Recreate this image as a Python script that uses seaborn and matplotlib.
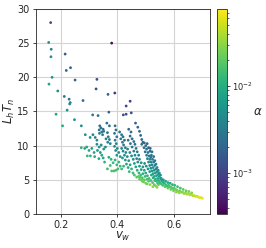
import numpy as np
import pandas as pd
import matplotlib
matplotlib.use('Agg')
import matplotlib.pyplot as plt
import seaborn as sns
from matplotlib.colors import LogNorm

# (v_w, L_h T_n, alpha)
sparse = [
    (0.165, 28.0, 1.2e-3), (0.158, 25.1, 5e-3), (0.167, 24.1, 3.5e-3), (0.166, 23.0, 5e-3),
    (0.380, 25.0, 4e-4), (0.216, 23.4, 1.5e-3), (0.235, 21.4, 1.8e-3), (0.220, 21.0, 2e-3),
    (0.170, 20.0, 6e-3), (0.251, 19.6, 2e-3), (0.328, 19.7, 1.2e-3), (0.159, 19.0, 8e-3),
    (0.325, 18.3, 1.3e-3), (0.190, 18.0, 5e-3), (0.367, 17.5, 1.8e-3), (0.391, 17.7, 8e-4),
    (0.213, 17.2, 3e-3), (0.230, 16.8, 2.5e-3), (0.234, 16.3, 3.5e-3), (0.232, 16.1, 4e-3),
    (0.279, 16.6, 2e-3), (0.223, 15.2, 5.5e-3), (0.445, 16.5, 9e-4), (0.431, 15.8, 1.1e-3),
    (0.449, 14.8, 1.3e-3), (0.421, 14.5, 1.2e-3), (0.431, 14.6, 1.2e-3), (0.370, 14.9, 2e-3),
    (0.184, 14.6, 8e-3), (0.207, 12.9, 9e-3), (0.249, 13.8, 5e-3), (0.313, 14.5, 3e-3),
    (0.332, 14.4, 2.5e-3), (0.273, 12.9, 5e-3), (0.287, 11.6, 5.5e-3), (0.304, 11.2, 5e-3),
]
middle = [
    (0.338, 12.9, 2.6e-3), (0.342, 12.6, 2.4e-3), (0.336, 12.3, 2.8e-3), (0.345, 12.0, 3e-3),
    (0.350, 12.4, 2.6e-3), (0.352, 12.1, 2.9e-3), (0.337, 11.8, 3.2e-3), (0.348, 11.6, 3.3e-3),
    (0.363, 13.3, 2.2e-3), (0.372, 12.9, 2.3e-3), (0.365, 11.9, 2.8e-3), (0.368, 11.3, 3.1e-3),
    (0.360, 11.0, 3.4e-3), (0.372, 10.9, 3.3e-3), (0.366, 10.5, 3.8e-3), (0.375, 10.3, 3.6e-3),
    (0.314, 11.6, 4e-3), (0.322, 11.2, 4.2e-3), (0.328, 10.8, 4.4e-3),
    (0.273, 9.7, 1.1e-2), (0.285, 9.6, 9e-3), (0.292, 9.8, 8e-3), (0.300, 9.3, 9e-3),
    (0.310, 9.6, 7e-3), (0.318, 9.0, 8e-3), (0.305, 8.5, 1.2e-2), (0.294, 8.5, 1.3e-2),
    (0.320, 8.4, 1e-2), (0.330, 9.3, 6e-3), (0.340, 9.0, 6.5e-3), (0.336, 9.8, 5.5e-3),
    (0.345, 8.6, 8e-3), (0.335, 8.1, 1e-2), (0.352, 9.5, 5.5e-3), (0.358, 9.8, 5e-3),
    (0.350, 8.2, 9e-3), (0.355, 7.6, 1.1e-2), (0.343, 10.1, 4.8e-3), (0.328, 10.2, 4.5e-3),
    (0.365, 6.6, 1.5e-2), (0.380, 6.3, 1.7e-2), (0.388, 6.3, 1.6e-2), (0.395, 6.4, 1.5e-2),
    (0.375, 7.1, 1.4e-2), (0.385, 7.5, 1.3e-2), (0.398, 7.2, 1.3e-2), (0.392, 7.9, 1.1e-2),
    (0.405, 7.6, 1.2e-2), (0.378, 8.0, 1.1e-2), (0.370, 8.3, 1e-2), (0.410, 7.0, 1.3e-2),
    (0.402, 6.6, 1.5e-2),
]
dense = [
    (0.392, 12.9, 2.4e-3), (0.395, 12.3, 2.6e-3), (0.390, 11.8, 2.9e-3), (0.398, 11.3, 3.1e-3),
    (0.392, 10.8, 3.3e-3), (0.396, 10.3, 3.7e-3), (0.390, 9.9, 4.2e-3), (0.400, 9.6, 4.5e-3),
    (0.394, 9.3, 5e-3), (0.405, 9.0, 5.3e-3), (0.398, 8.6, 6e-3), (0.410, 8.4, 6.5e-3),
    (0.408, 12.0, 2.5e-3), (0.415, 11.6, 2.6e-3), (0.412, 11.0, 2.9e-3), (0.420, 11.3, 2.5e-3),
    (0.418, 10.5, 3e-3), (0.425, 10.8, 2.7e-3), (0.422, 10.1, 3.2e-3), (0.428, 9.7, 3.5e-3),
    (0.415, 9.6, 3.9e-3), (0.420, 9.2, 4.3e-3), (0.430, 9.0, 4.5e-3), (0.425, 8.6, 5.2e-3),
    (0.435, 8.4, 5.5e-3), (0.418, 8.2, 6.5e-3), (0.428, 7.9, 7e-3), (0.440, 7.8, 7e-3),
    (0.432, 7.3, 8.5e-3), (0.445, 7.2, 8.5e-3), (0.438, 6.8, 1e-2), (0.450, 6.6, 1.1e-2),
    (0.442, 6.2, 1.3e-2), (0.455, 6.0, 1.4e-2), (0.422, 7.0, 1.1e-2), (0.415, 6.6, 1.3e-2),
    (0.440, 12.4, 2e-3), (0.448, 12.0, 2.1e-3), (0.445, 11.4, 2.3e-3), (0.452, 11.0, 2.4e-3),
    (0.438, 10.8, 2.7e-3), (0.458, 10.6, 2.5e-3), (0.446, 10.3, 2.9e-3), (0.462, 10.2, 2.6e-3),
    (0.452, 9.8, 3.1e-3), (0.466, 9.6, 3e-3), (0.458, 9.2, 3.5e-3), (0.470, 9.1, 3.3e-3),
    (0.462, 8.6, 4e-3), (0.475, 8.6, 3.8e-3), (0.468, 8.1, 4.6e-3), (0.478, 8.0, 4.5e-3),
    (0.472, 7.6, 5.3e-3), (0.484, 7.5, 5.2e-3), (0.478, 7.0, 6.2e-3), (0.490, 6.9, 6.2e-3),
    (0.484, 6.5, 7.5e-3), (0.460, 7.4, 7e-3), (0.465, 6.9, 8.5e-3), (0.470, 6.4, 1e-2),
    (0.476, 6.0, 1.2e-2), (0.482, 5.7, 1.4e-2), (0.488, 5.3, 1.7e-2), (0.495, 5.0, 1.9e-2),
    (0.464, 13.3, 1.8e-3), (0.472, 12.7, 1.9e-3), (0.478, 12.1, 2e-3), (0.482, 11.5, 2.1e-3),
    (0.486, 10.9, 2.2e-3), (0.490, 10.5, 2.2e-3), (0.495, 10.4, 2.1e-3), (0.500, 10.0, 2.3e-3),
    (0.486, 10.2, 2.4e-3), (0.494, 9.7, 2.5e-3), (0.503, 9.5, 2.5e-3), (0.498, 9.1, 2.8e-3),
    (0.508, 9.0, 2.8e-3), (0.503, 8.6, 3.1e-3), (0.512, 8.5, 3.1e-3), (0.506, 8.1, 3.5e-3),
    (0.515, 8.0, 3.5e-3), (0.510, 7.6, 4e-3), (0.519, 7.6, 4e-3), (0.514, 7.1, 4.6e-3),
    (0.522, 7.2, 4.5e-3), (0.518, 6.7, 5.3e-3), (0.526, 6.8, 5e-3), (0.522, 6.3, 6e-3),
    (0.530, 6.4, 5.7e-3), (0.526, 5.9, 7e-3), (0.534, 6.0, 6.5e-3), (0.530, 5.5, 8e-3),
    (0.538, 5.6, 7.5e-3), (0.534, 5.1, 9.5e-3), (0.542, 5.2, 8.5e-3), (0.538, 4.8, 1.1e-2),
    (0.546, 4.9, 1e-2),
    (0.500, 6.0, 9e-3), (0.506, 5.6, 1.1e-2), (0.512, 5.2, 1.3e-2), (0.518, 4.9, 1.5e-2),
    (0.524, 4.6, 1.7e-2), (0.530, 4.3, 2e-2), (0.495, 6.4, 8e-3), (0.490, 5.9, 1.1e-2),
    (0.498, 5.5, 1.3e-2), (0.505, 5.1, 1.5e-2), (0.510, 4.8, 1.8e-2), (0.485, 5.0, 2e-2),
    (0.492, 4.7, 2.2e-2), (0.500, 4.5, 2.4e-2), (0.480, 5.4, 1.8e-2),
    (0.505, 10.3, 2e-3), (0.510, 9.7, 2.2e-3), (0.515, 9.2, 2.4e-3), (0.520, 8.6, 2.7e-3),
    (0.524, 8.0, 3e-3), (0.528, 7.6, 3.3e-3), (0.532, 7.1, 3.8e-3), (0.536, 6.6, 4.4e-3),
    (0.540, 6.2, 5e-3), (0.544, 5.8, 5.8e-3), (0.548, 5.5, 6.5e-3), (0.552, 5.2, 7.5e-3),
    (0.556, 4.9, 8.5e-3),
    (0.475, 5.5, 2e-2), (0.478, 5.1, 2.2e-2), (0.488, 4.8, 2.4e-2), (0.505, 4.4, 2.6e-2),
    (0.515, 4.3, 2.8e-2), (0.525, 4.0, 3e-2), (0.535, 4.1, 2.6e-2), (0.540, 3.9, 3e-2),
    (0.545, 4.3, 2e-2),
    (0.516, 9.6, 2.1e-3), (0.522, 9.1, 2.3e-3), (0.518, 8.3, 2.9e-3), (0.528, 8.4, 2.6e-3),
    (0.532, 7.8, 3e-3), (0.536, 7.3, 3.4e-3), (0.540, 6.8, 3.9e-3), (0.544, 6.4, 4.4e-3),
    (0.548, 6.0, 5e-3), (0.552, 5.7, 5.6e-3), (0.514, 6.2, 7e-3), (0.508, 6.6, 6e-3),
    (0.502, 7.0, 5.2e-3), (0.496, 7.4, 4.6e-3), (0.520, 5.7, 8.5e-3), (0.526, 5.3, 1e-2),
    (0.532, 4.9, 1.2e-2), (0.542, 4.5, 1.5e-2), (0.456, 8.0, 5e-3), (0.450, 8.5, 4.5e-3),
    (0.444, 9.0, 4e-3), (0.436, 9.5, 3.7e-3), (0.460, 5.7, 1.6e-2), (0.468, 5.4, 1.8e-2),
]
tail = [
    (0.550, 4.6, 1.2e-2), (0.555, 4.4, 1.4e-2), (0.560, 4.7, 1e-2), (0.565, 4.5, 1.1e-2),
    (0.560, 4.2, 1.6e-2), (0.570, 4.3, 1.3e-2), (0.575, 4.1, 1.5e-2), (0.568, 4.0, 1.8e-2),
    (0.580, 4.2, 1.4e-2), (0.585, 4.0, 1.6e-2), (0.578, 3.8, 2e-2), (0.590, 3.9, 1.8e-2),
    (0.595, 3.7, 2e-2), (0.588, 3.6, 2.3e-2), (0.600, 3.8, 1.9e-2), (0.605, 3.6, 2.2e-2),
    (0.598, 3.4, 2.6e-2), (0.610, 3.5, 2.4e-2), (0.615, 3.3, 2.7e-2), (0.608, 3.2, 3e-2),
    (0.620, 3.4, 2.6e-2), (0.625, 3.2, 2.9e-2), (0.618, 3.1, 3.2e-2), (0.630, 3.2, 3e-2),
    (0.635, 3.0, 3.3e-2), (0.640, 3.1, 3.2e-2), (0.645, 2.9, 3.6e-2), (0.650, 3.0, 3.5e-2),
    (0.655, 2.8, 3.9e-2), (0.660, 2.9, 3.8e-2), (0.665, 2.7, 4.2e-2), (0.670, 2.7, 4.4e-2),
    (0.675, 2.6, 4.7e-2), (0.680, 2.6, 5e-2), (0.685, 2.5, 5.4e-2), (0.690, 2.4, 5.8e-2),
    (0.695, 2.4, 6e-2), (0.700, 2.3, 6.5e-2),
    (0.555, 5.2, 6e-3), (0.562, 5.0, 7e-3), (0.570, 4.8, 8e-3), (0.578, 4.6, 9e-3),
    (0.586, 4.5, 1e-2), (0.594, 4.3, 1.1e-2), (0.602, 4.2, 1.2e-2), (0.612, 4.0, 1.4e-2),
    (0.622, 3.8, 1.6e-2), (0.632, 3.6, 1.9e-2), (0.642, 3.4, 2.2e-2), (0.652, 3.3, 2.5e-2),
    (0.662, 3.1, 2.9e-2),
]

df = pd.DataFrame(sparse + middle + dense + tail, columns=['vw', 'LhTn', 'alpha'])

sns.set_style('ticks')
fig = plt.figure(figsize=(2.66, 2.48), dpi=100)
ax = fig.add_axes([0.135, 0.137, 0.654, 0.827])
cax = fig.add_axes([0.816, 0.137, 0.037, 0.827])

norm = LogNorm(vmin=3.4e-4, vmax=7.7e-2)
sns.scatterplot(data=df, x='vw', y='LhTn', hue='alpha', hue_norm=norm,
                palette='viridis', s=4, linewidth=0, legend=False, ax=ax, zorder=3)

ax.set_xlim(0.113, 0.726)
ax.set_ylim(0, 30)
ax.set_xticks([0.2, 0.4, 0.6])
ax.set_yticks([0, 5, 10, 15, 20, 25, 30])
ax.grid(True, color='#d4d4d4', linewidth=0.8)
ax.tick_params(labelsize=7, length=2.5, width=0.6, pad=2)
for sp in ax.spines.values():
    sp.set_linewidth(0.6)
ax.set_xlabel(r'$v_w$', fontsize=8.5, labelpad=0)
ax.set_ylabel(r'$L_h T_n$', fontsize=8.5, labelpad=0)

sm = plt.cm.ScalarMappable(norm=norm, cmap='viridis')
cb = fig.colorbar(sm, cax=cax)
cb.outline.set_linewidth(0.6)
cax.tick_params(labelsize=6, length=2.5, width=0.6, pad=1.5)
cax.tick_params(which='minor', length=1.5, width=0.5)
cb.set_label(r'$\alpha$', fontsize=8.5, rotation=0, labelpad=3, va='center')

fig.savefig('out.png', dpi=100)
